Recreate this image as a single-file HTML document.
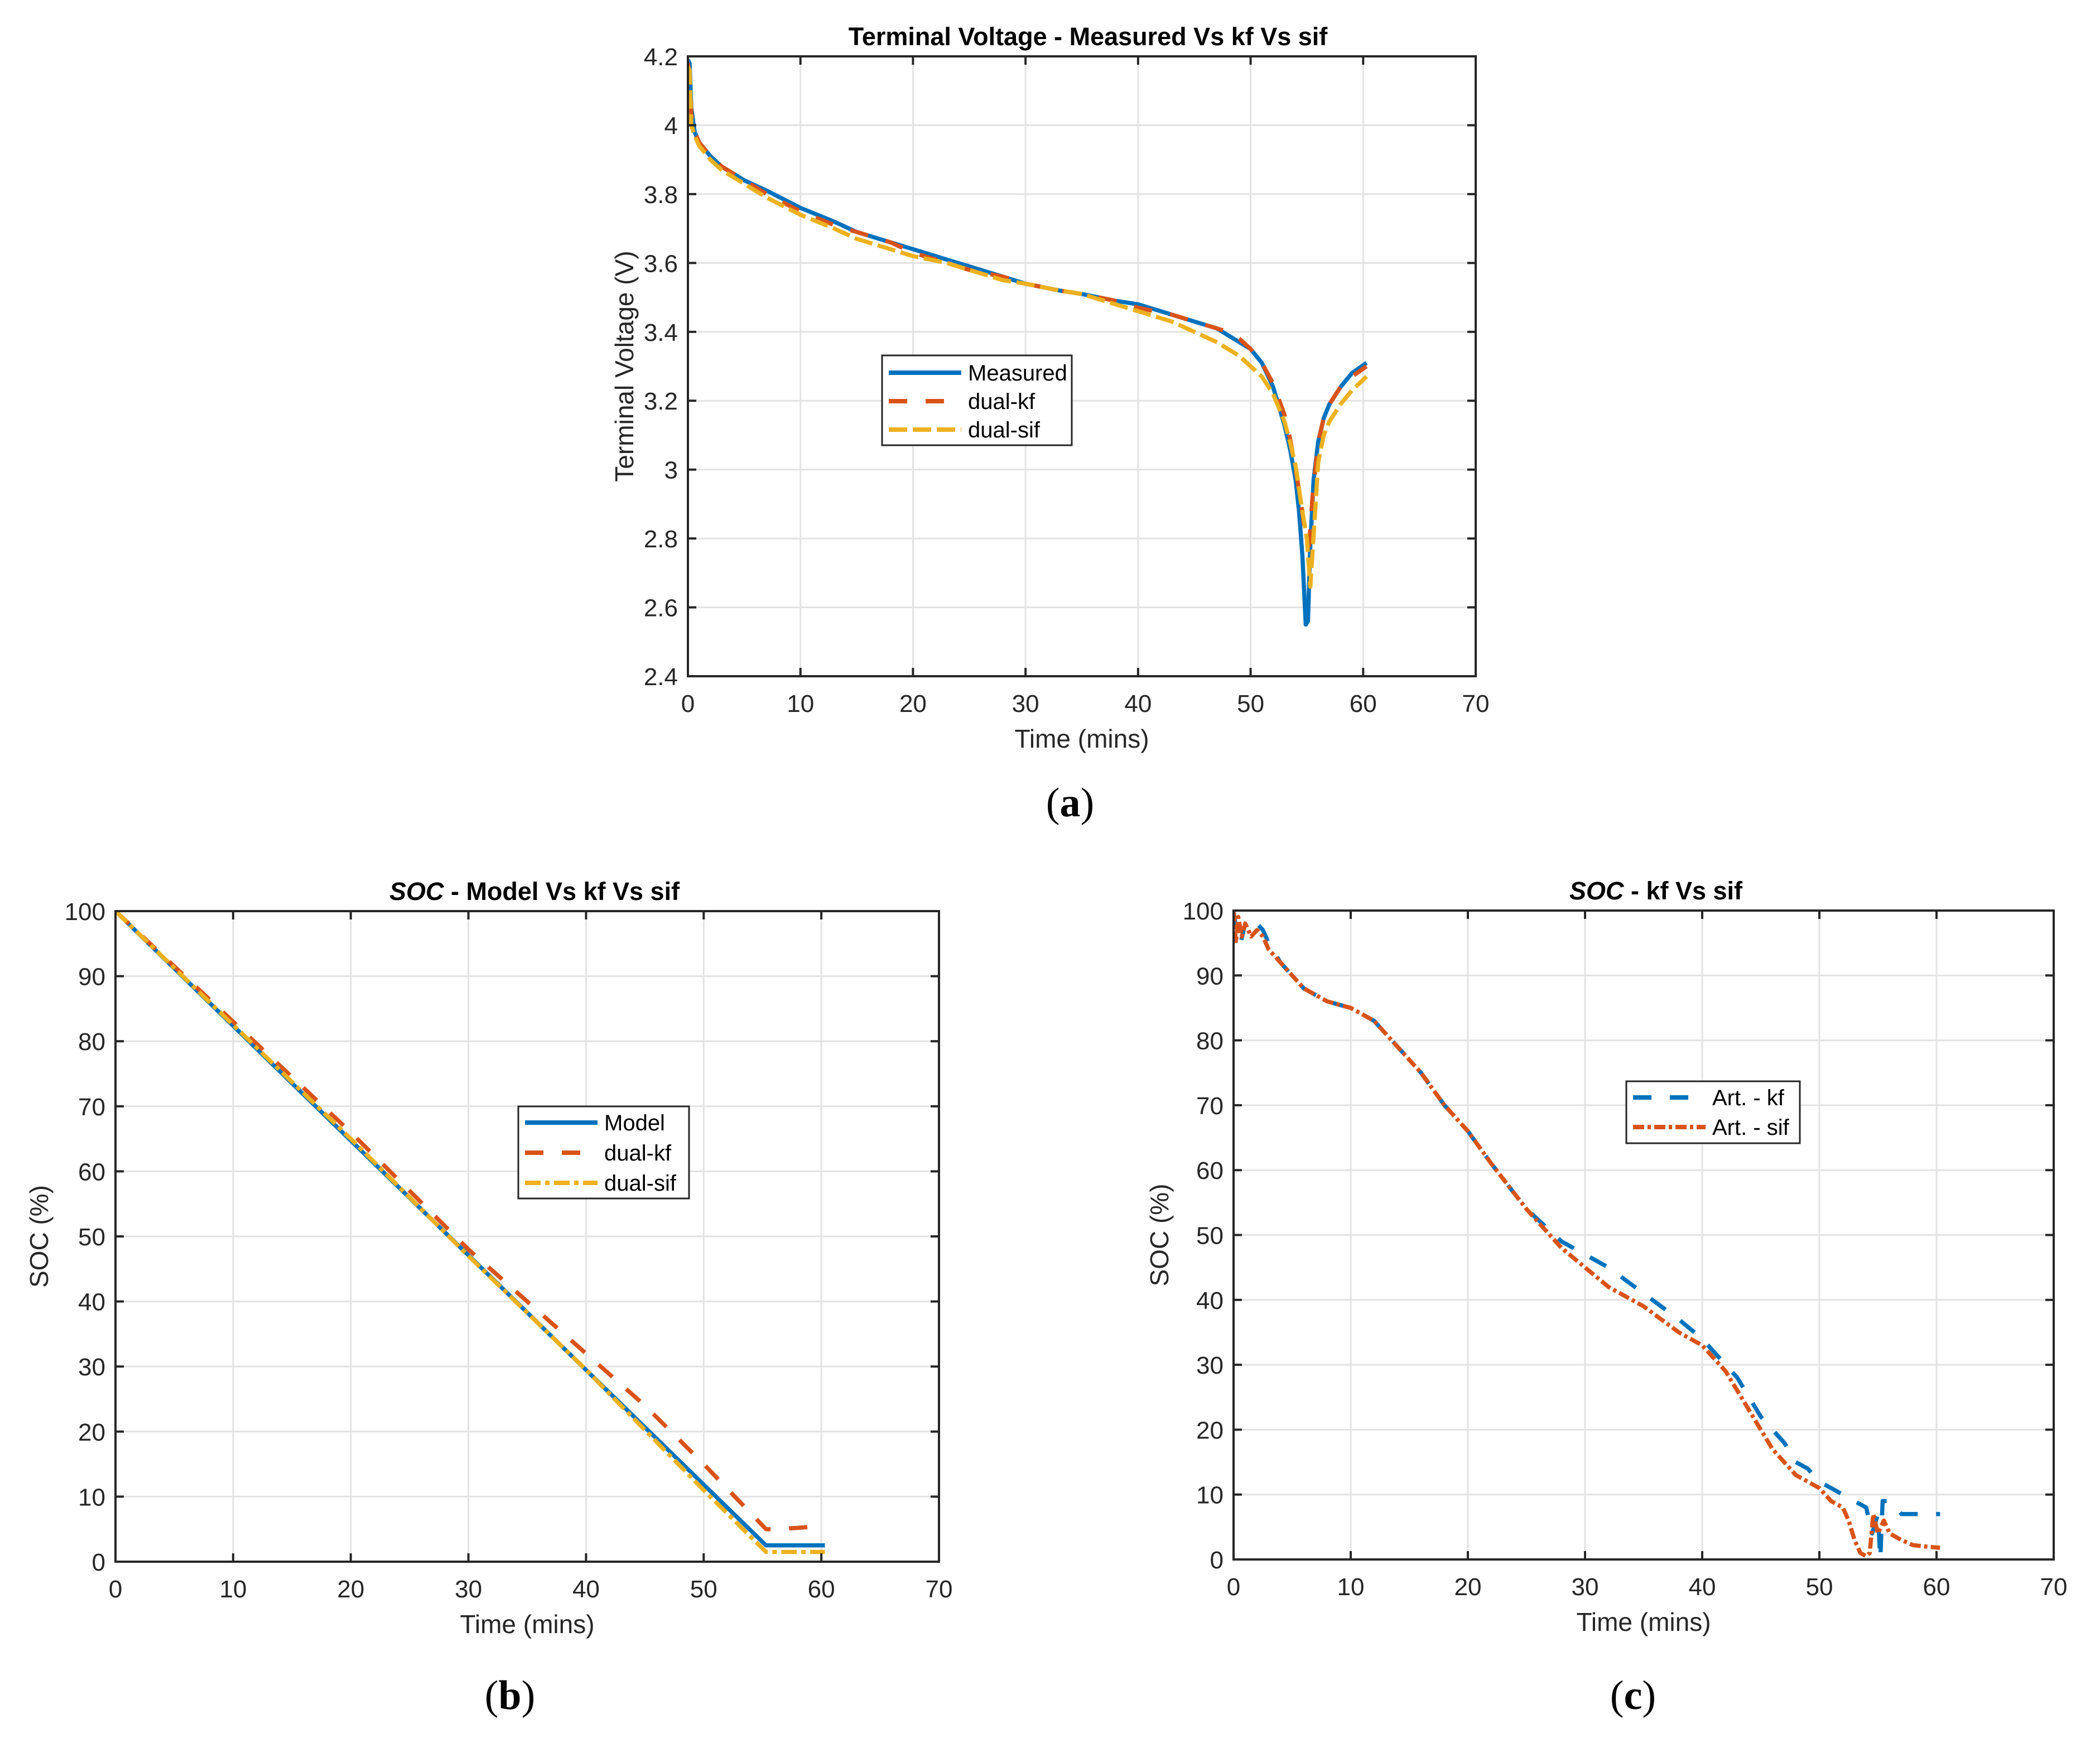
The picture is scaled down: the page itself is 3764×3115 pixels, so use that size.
<!DOCTYPE html>
<html><head><meta charset="utf-8"><style>
html,body{margin:0;padding:0;background:#fff;}
svg{display:block;font-family:"Liberation Sans",sans-serif;}
</style></head><body>
<svg id="fig" width="3764" height="3115" viewBox="0 0 3764 3115" xmlns="http://www.w3.org/2000/svg"></svg>
<script>
// ---- Data: panel (a) terminal voltage ----
const tA_meas=[0,0.15,0.3,0.6,1,2,3,5,7,10,13,15,18,20,23,25,28,30,33,35,38,40,43,45,47,48,49,50,51,52,53,53.5,54,54.3,54.6,54.9,55.1,55.3,55.6,56,56.5,57,58,59,60.3];
const vA_meas=[4.19,4.18,4.05,3.98,3.95,3.91,3.88,3.84,3.81,3.76,3.72,3.69,3.66,3.64,3.61,3.59,3.56,3.54,3.52,3.51,3.49,3.48,3.45,3.43,3.41,3.39,3.37,3.35,3.31,3.24,3.13,3.06,2.97,2.88,2.75,2.55,2.56,2.78,2.97,3.08,3.15,3.19,3.24,3.28,3.31];
const tA_kf=[0,0.15,0.3,0.6,1,2,3,5,7,10,13,15,18,20,23,25,28,30,33,35,38,40,43,45,47,48,49,50,51,52,53,53.5,54,54.5,54.9,55.2,55.5,56,56.5,57,58,59,60.3];
const vA_kf=[4.18,4.15,4.03,3.98,3.95,3.91,3.88,3.84,3.80,3.75,3.71,3.69,3.66,3.63,3.60,3.58,3.56,3.54,3.52,3.51,3.49,3.47,3.45,3.43,3.41,3.40,3.38,3.35,3.31,3.25,3.16,3.09,3.00,2.90,2.80,2.78,2.92,3.08,3.15,3.19,3.24,3.27,3.30];
const tA_sif=[0,0.15,0.3,0.6,1,2,3,5,7,10,13,15,18,20,23,25,28,30,33,35,38,40,43,45,47,48,49,50,51,52,53,53.5,54,54.5,55,55.3,55.7,56,56.5,57,58,59,60.3];
const vA_sif=[4.17,4.16,4.0,3.97,3.94,3.90,3.87,3.83,3.79,3.74,3.70,3.67,3.64,3.62,3.60,3.58,3.55,3.54,3.52,3.51,3.48,3.46,3.43,3.40,3.37,3.35,3.33,3.30,3.27,3.22,3.14,3.08,3.01,2.90,2.80,2.66,2.86,3.02,3.10,3.14,3.19,3.23,3.27];
// ---- Data: panel (b) SOC ----
const tB_model=[0,55.3,60.3];
const sB_model=[100,2.5,2.5];
const tB_kf=[0,10,20,30,35,40,45,50,55.3,56,58,60];
const sB_kf=[100,83,66,48,40,32,24,15,5,5,5.2,5.5];
const tB_sif=[0,10,20,30,40,50,55.3,60.3];
const sB_sif=[100,82.5,65,47,29.5,11,1.5,1.5];
// ---- Data: panel (c) SOC kf vs sif ----
const tC_kf=[0,0.3,0.6,1,1.5,2,2.5,3,4,5,6,7,8,10,12,13,14,16,18,20,22,25,28,30,32,35,38,40,42,43,45,47,48,49,50,52,53,54,54.5,55,55.2,55.4,56,56.5,57,58,60.3];
const sC_kf=[100,96,95,98,99,98,97,95,92,90,88,87,86,85,83,81,79,75,70,66,61,54,49,47,45,41,37,34,30,28,22,18,15,14,12,10,9,8,4,7,0,9,9,8,7,7,7];
const tC_sif=[0,0.2,0.4,0.7,1,1.5,2,2.5,3,4,5,6,7,8,10,12,13,14,16,18,20,22,25,28,30,32,35,38,40,42,43,45,46,48,50,51,52,52.5,53,53.5,54,54.3,54.6,55,55.5,56,57,58,59,60.3];
const sC_sif=[100,95,99,96,98,96,97,96,94,92,90,88,87,86,85,83,81,79,75,70,66,61,54,48,45,42,39,35,33,29,26,20,17,13,11,9,8,6,3,1,0.5,1,7,4,6,4,3,2.2,2,1.8];

const xTicks=[0,10,20,30,40,50,60,70];
const yTicksA=[2.4,2.6,2.8,3,3.2,3.4,3.6,3.8,4,4.2];
const yTicksSOC=[0,10,20,30,40,50,60,70,80,90,100];

const NS='http://www.w3.org/2000/svg';
const svg=document.getElementById('fig');
const BLUE='#0072BD',RED='#D95319',YEL='#EDB120';
function mk(tag,attrs,parent){const e=document.createElementNS(NS,tag);for(const k in attrs)e.setAttribute(k,attrs[k]);(parent||svg).appendChild(e);return e;}
function txt(s,attrs,parent){const e=mk('text',attrs,parent);e.textContent=s;return e;}

function panel(cfg){
  const g=mk('g',{});
  
  
  const L=cfg.L,R=cfg.R,T=cfg.T,B=cfg.B;
  const sx=v=>L+(v-cfg.xmin)/(cfg.xmax-cfg.xmin)*(R-L);
  const sy=v=>B-(v-cfg.ymin)/(cfg.ymax-cfg.ymin)*(B-T);
  mk('rect',{x:L,y:T,width:R-L,height:B-T,fill:'#fff'},g);
  xTicks.forEach(v=>{const x=sx(v);if(v>cfg.xmin&&v<cfg.xmax){const l=mk('line',{x1:x,x2:x,y1:T,y2:B,stroke:'#e3e3e3','stroke-width':3},g);}});
  cfg.yTicks.forEach(v=>{const y=sy(v);if(v>cfg.ymin&&v<cfg.ymax){const l=mk('line',{x1:L,x2:R,y1:y,y2:y,stroke:'#e3e3e3','stroke-width':3},g);}});
  const clip='clip-'+cfg.name;
  const cp=mk('clipPath',{id:clip},g);mk('rect',{x:L,y:T-6,width:R-L,height:B-T+12},cp);
  cfg.series.forEach(s=>{
    const d=s.t.map((t,i)=>(i?'L':'M')+sx(t).toFixed(1)+' '+sy(s.v[i]).toFixed(1)).join(' ');
    const p=mk('path',{d:d,fill:'none',stroke:s.color,'stroke-width':7.5,'stroke-linejoin':'round','clip-path':'url(#'+clip+')'},g);
    if(s.dash)p.setAttribute('stroke-dasharray',s.dash);
    
    
  });
  mk('rect',{x:L,y:T,width:R-L,height:B-T,fill:'none',stroke:'#262626','stroke-width':4},g);
  xTicks.forEach(v=>{const x=sx(v);
    mk('line',{x1:x,x2:x,y1:B,y2:B-15,stroke:'#262626','stroke-width':4},g);
    mk('line',{x1:x,x2:x,y1:T,y2:T+15,stroke:'#262626','stroke-width':4},g);
    const t=txt(String(v),{x:x,y:B+64,'font-size':44,'text-anchor':'middle',fill:'#262626'},g);
    
  });
  cfg.yTicks.forEach(v=>{const y=sy(v);
    mk('line',{x1:L,x2:L+15,y1:y,y2:y,stroke:'#262626','stroke-width':4},g);
    mk('line',{x1:R,x2:R-15,y1:y,y2:y,stroke:'#262626','stroke-width':4},g);
    const t=txt(String(v),{x:L-18,y:y+16,'font-size':44,'text-anchor':'end',fill:'#262626'},g);
    
  });
  const xl=txt('Time (mins)',{x:(L+R)/2,y:B+128,'font-size':46,'text-anchor':'middle',fill:'#262626'},g);
  
  const yl=txt(cfg.ylabel,{x:0,y:0,'font-size':46,'text-anchor':'middle',fill:'#262626',transform:'translate('+cfg.ylx+','+(T+B)/2+') rotate(-90)'},g);
  
  const ti=mk('text',{x:cfg.titleX,y:T-20,'font-size':45,'font-weight':'bold','text-anchor':'middle',fill:'#000'},g);
  
  cfg.title.forEach(p=>{const s=mk('tspan',p.italic?{'font-style':'italic'}:{},ti);s.textContent=p.s;});
  const lg=mk('g',{},g);
  
  
  const lw=cfg.legend;
  mk('rect',{x:lw.x,y:lw.y,width:lw.w,height:lw.h,fill:'#fff',stroke:'#262626','stroke-width':3},lg);
  cfg.series.forEach((s,i)=>{
    const y=lw.y+lw.pad+i*lw.row;
    const l=mk('line',{x1:lw.x+12,x2:lw.x+142,y1:y,y2:y,stroke:s.color,'stroke-width':8},lg);
    if(s.dash)l.setAttribute('stroke-dasharray',s.dash);
    const t=txt(s.label,{x:lw.x+154,y:y+14,'font-size':40,fill:'#000'},lg);
    
  });
  const cap=mk('text',{x:cfg.capX,y:cfg.capY,'font-size':74,'font-family':'Liberation Serif, serif','text-anchor':'middle',fill:'#000'},g);
  
  const s1=mk('tspan',{},cap);s1.textContent='(';
  const s2=mk('tspan',{'font-weight':'bold'},cap);s2.textContent=cfg.cap;
  const s3=mk('tspan',{},cap);s3.textContent=')';
}

panel({name:'panel-a-voltage',L:1233,R:2645,T:101,B:1212,xmin:0,xmax:70,ymin:2.4,ymax:4.2,yTicks:yTicksA,
  ylabel:'Terminal Voltage (V)',ylx:1135,titleX:1950,title:[{s:'Terminal Voltage - Measured Vs kf Vs sif'}],
  series:[{id:'measured-line',t:tA_meas,v:vA_meas,color:BLUE,label:'Measured'},
          {id:'dual-kf-line',t:tA_kf,v:vA_kf,color:RED,dash:'33 33',label:'dual-kf'},
          {id:'dual-sif-line',t:tA_sif,v:vA_sif,color:YEL,dash:'33 10',label:'dual-sif'}],
  legend:{x:1581,y:637,w:340,h:161,pad:31,row:51},cap:'a',capX:1918,capY:1463});

panel({name:'panel-b-soc',L:207,R:1683,T:1633,B:2799,xmin:0,xmax:70,ymin:0,ymax:100,yTicks:yTicksSOC,
  ylabel:'SOC (%)',ylx:86,titleX:958,title:[{s:'SOC',italic:true},{s:' - Model Vs kf Vs sif'}],
  series:[{id:'model-line',t:tB_model,v:sB_model,color:BLUE,label:'Model'},
          {id:'dual-kf-line',t:tB_kf,v:sB_kf,color:RED,dash:'33 33',label:'dual-kf'},
          {id:'dual-sif-line',t:tB_sif,v:sB_sif,color:YEL,dash:'28 8 8 8',label:'dual-sif'}],
  legend:{x:929,y:1983,w:306,h:165,pad:29,row:54},cap:'b',capX:914,capY:3063});

panel({name:'panel-c-soc',L:2211,R:3681,T:1632,B:2795,xmin:0,xmax:70,ymin:0,ymax:100,yTicks:yTicksSOC,
  ylabel:'SOC (%)',ylx:2094,titleX:2968,title:[{s:'SOC',italic:true},{s:' - kf Vs sif'}],
  series:[{id:'art-kf-line',t:tC_kf,v:sC_kf,color:BLUE,dash:'33 33',label:'Art. - kf'},
          {id:'art-sif-line',t:tC_sif,v:sC_sif,color:RED,dash:'20 6 6 6',label:'Art. - sif'}],
  legend:{x:2915,y:1938,w:311,h:111,pad:29,row:53},cap:'c',capX:2927,capY:3063});
</script>
</body></html>
